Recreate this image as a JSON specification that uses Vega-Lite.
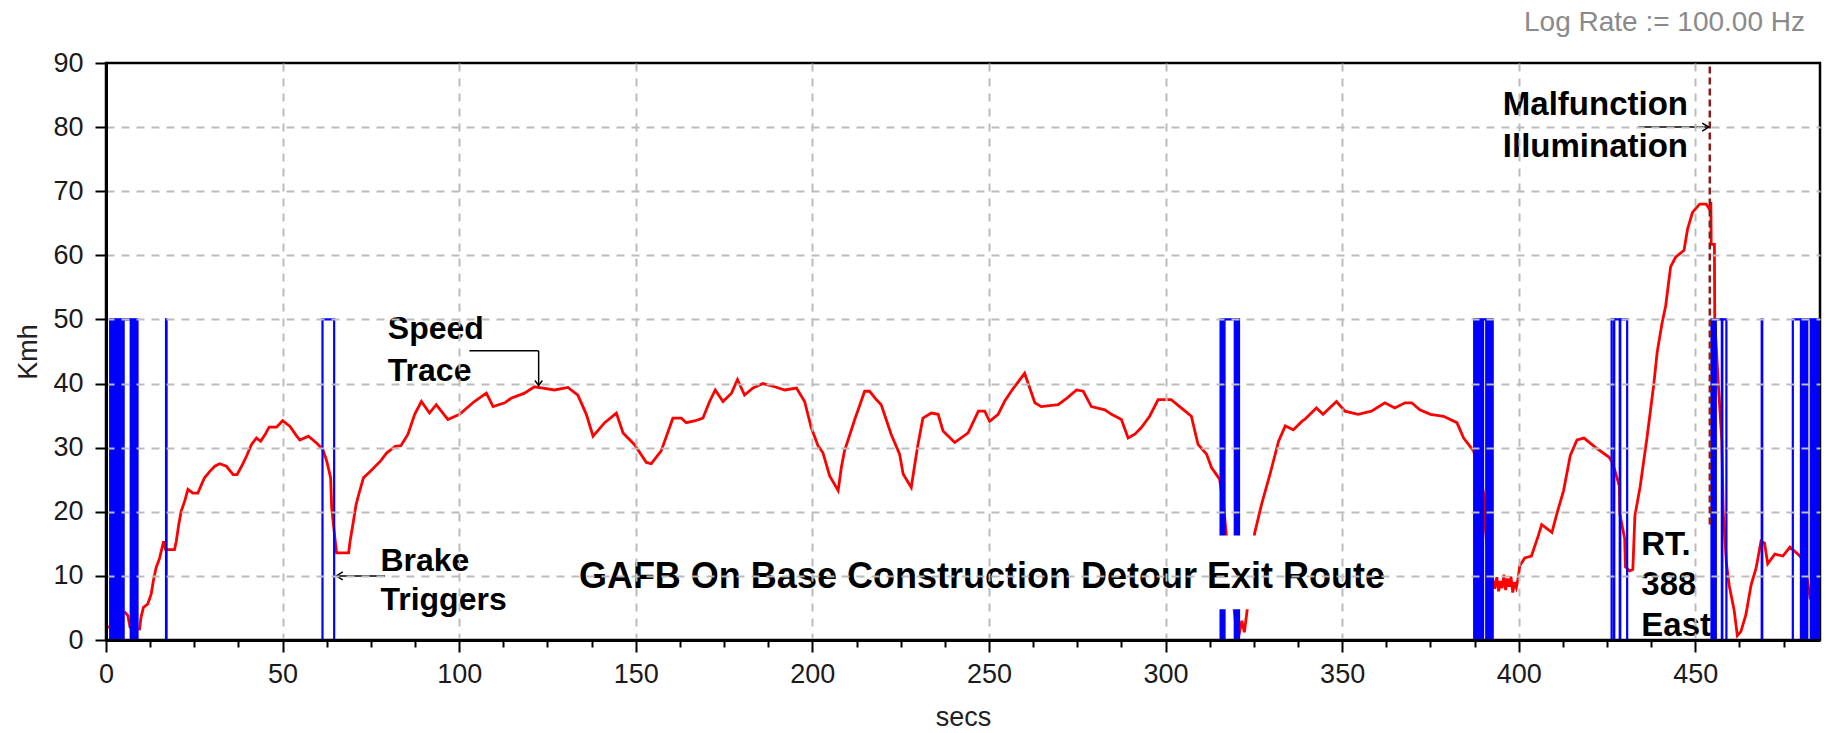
{
  "$schema": "https://vega.github.io/schema/vega-lite/v6.json",
  "width": 1714,
  "height": 577,
  "autosize": {"type": "none"},
  "padding": {"left": 106, "top": 63, "right": 6, "bottom": 93},
  "background": "white",
  "title": {
    "text": "Log Rate := 100.00 Hz",
    "anchor": "end",
    "frame": "group",
    "orient": "top",
    "font": "Liberation Sans",
    "fontSize": 28,
    "fontWeight": "normal",
    "color": "#8a8a8a",
    "baseline": "middle",
    "offset": -2,
    "dx": -15
  },
  "config": {
    "view": {"stroke": "#000000", "strokeWidth": 2.5},
    "font": "Liberation Sans"
  },
  "datasets": {
    "speed": [
      {"t": 0, "kmh": 2.0}, {"t": 1.0, "kmh": 2.0}, {"t": 2.5, "kmh": 3.0}, {"t": 4.2, "kmh": 4.3},
      {"t": 5.4, "kmh": 4.3}, {"t": 6.2, "kmh": 3.8}, {"t": 6.8, "kmh": 2.0}, {"t": 8.7, "kmh": 1.7},
      {"t": 9.5, "kmh": 1.7}, {"t": 9.9, "kmh": 3.5}, {"t": 10.6, "kmh": 5.1}, {"t": 11.8, "kmh": 5.6},
      {"t": 12.8, "kmh": 7.2}, {"t": 13.4, "kmh": 9.2}, {"t": 14.2, "kmh": 11.3}, {"t": 15.2, "kmh": 12.8},
      {"t": 16.3, "kmh": 15.4}, {"t": 16.9, "kmh": 14.1}, {"t": 19.4, "kmh": 14.1}, {"t": 19.9, "kmh": 15.4},
      {"t": 20.6, "kmh": 18.0}, {"t": 21.3, "kmh": 20.1}, {"t": 22.3, "kmh": 21.7}, {"t": 23.2, "kmh": 23.5},
      {"t": 24.6, "kmh": 22.9}, {"t": 26.0, "kmh": 22.9}, {"t": 27.0, "kmh": 24.2}, {"t": 27.9, "kmh": 25.3},
      {"t": 29.4, "kmh": 26.3}, {"t": 30.8, "kmh": 27.1}, {"t": 32.2, "kmh": 27.5}, {"t": 34.1, "kmh": 27.1},
      {"t": 36.0, "kmh": 25.8}, {"t": 37.1, "kmh": 25.8}, {"t": 38.4, "kmh": 27.1}, {"t": 39.8, "kmh": 28.7},
      {"t": 41.2, "kmh": 30.5}, {"t": 42.6, "kmh": 31.5}, {"t": 43.8, "kmh": 31.0}, {"t": 45.0, "kmh": 32.0},
      {"t": 46.2, "kmh": 33.2}, {"t": 48.3, "kmh": 33.2}, {"t": 50.0, "kmh": 34.2}, {"t": 52.1, "kmh": 33.3},
      {"t": 54.0, "kmh": 31.8}, {"t": 54.9, "kmh": 31.2}, {"t": 57.3, "kmh": 31.8}, {"t": 59.7, "kmh": 30.7},
      {"t": 61.4, "kmh": 29.7}, {"t": 62.5, "kmh": 27.9}, {"t": 63.6, "kmh": 25.3}, {"t": 63.9, "kmh": 20.6},
      {"t": 64.9, "kmh": 15.4}, {"t": 65.3, "kmh": 13.6}, {"t": 68.7, "kmh": 13.6}, {"t": 69.1, "kmh": 15.4},
      {"t": 69.9, "kmh": 18.0}, {"t": 70.8, "kmh": 21.1}, {"t": 71.8, "kmh": 23.2}, {"t": 72.9, "kmh": 25.3},
      {"t": 74.8, "kmh": 26.3}, {"t": 77.7, "kmh": 27.9}, {"t": 79.5, "kmh": 29.2}, {"t": 81.9, "kmh": 30.2},
      {"t": 83.5, "kmh": 30.3}, {"t": 85.5, "kmh": 32.1}, {"t": 87.4, "kmh": 35.2}, {"t": 89.3, "kmh": 37.2},
      {"t": 91.6, "kmh": 35.4}, {"t": 93.5, "kmh": 36.7}, {"t": 96.8, "kmh": 34.4}, {"t": 100.1, "kmh": 35.2},
      {"t": 104.3, "kmh": 37.2}, {"t": 107.7, "kmh": 38.5}, {"t": 109.6, "kmh": 36.4}, {"t": 112.9, "kmh": 37.0},
      {"t": 114.7, "kmh": 37.7}, {"t": 118.5, "kmh": 38.5}, {"t": 121.3, "kmh": 39.5}, {"t": 123.7, "kmh": 39.3},
      {"t": 127.0, "kmh": 39.0}, {"t": 130.8, "kmh": 39.4}, {"t": 133.6, "kmh": 38.2}, {"t": 136.0, "kmh": 35.2},
      {"t": 137.9, "kmh": 31.8}, {"t": 141.2, "kmh": 33.9}, {"t": 144.5, "kmh": 35.4}, {"t": 146.4, "kmh": 32.3},
      {"t": 149.6, "kmh": 30.5}, {"t": 153.0, "kmh": 27.7}, {"t": 154.4, "kmh": 27.5}, {"t": 157.2, "kmh": 29.5},
      {"t": 160.5, "kmh": 34.6}, {"t": 162.9, "kmh": 34.6}, {"t": 164.3, "kmh": 33.9}, {"t": 166.9, "kmh": 34.2},
      {"t": 169.0, "kmh": 34.6}, {"t": 170.9, "kmh": 37.2}, {"t": 172.5, "kmh": 39.0}, {"t": 174.7, "kmh": 37.2},
      {"t": 177.1, "kmh": 38.5}, {"t": 178.8, "kmh": 40.6}, {"t": 180.8, "kmh": 38.2}, {"t": 183.2, "kmh": 39.3},
      {"t": 186.0, "kmh": 40.0}, {"t": 189.3, "kmh": 39.5}, {"t": 192.2, "kmh": 39.0}, {"t": 195.5, "kmh": 39.3},
      {"t": 197.8, "kmh": 37.2}, {"t": 199.7, "kmh": 33.1}, {"t": 201.6, "kmh": 30.3}, {"t": 203.0, "kmh": 29.2},
      {"t": 204.9, "kmh": 25.6}, {"t": 207.3, "kmh": 23.3}, {"t": 208.2, "kmh": 26.9}, {"t": 209.1, "kmh": 29.5},
      {"t": 212.0, "kmh": 34.4}, {"t": 214.8, "kmh": 38.8}, {"t": 216.2, "kmh": 38.8}, {"t": 218.1, "kmh": 37.5},
      {"t": 219.5, "kmh": 36.7}, {"t": 222.3, "kmh": 32.1}, {"t": 224.7, "kmh": 29.0}, {"t": 225.7, "kmh": 25.9},
      {"t": 228.0, "kmh": 23.8}, {"t": 229.0, "kmh": 27.4}, {"t": 229.9, "kmh": 30.5}, {"t": 231.3, "kmh": 34.6},
      {"t": 233.7, "kmh": 35.4}, {"t": 235.6, "kmh": 35.2}, {"t": 237.0, "kmh": 32.6}, {"t": 240.3, "kmh": 30.8},
      {"t": 244.1, "kmh": 32.3}, {"t": 247.0, "kmh": 35.7}, {"t": 248.8, "kmh": 35.7}, {"t": 250.2, "kmh": 34.1},
      {"t": 252.6, "kmh": 35.2}, {"t": 254.4, "kmh": 37.2}, {"t": 256.3, "kmh": 38.8}, {"t": 260.1, "kmh": 41.6},
      {"t": 263.0, "kmh": 37.0}, {"t": 264.8, "kmh": 36.4}, {"t": 269.6, "kmh": 36.7}, {"t": 272.0, "kmh": 37.7},
      {"t": 274.8, "kmh": 39.0}, {"t": 276.7, "kmh": 38.8}, {"t": 279.0, "kmh": 36.4}, {"t": 282.8, "kmh": 35.9},
      {"t": 284.7, "kmh": 35.2}, {"t": 287.5, "kmh": 34.4}, {"t": 289.4, "kmh": 31.5}, {"t": 291.3, "kmh": 32.1},
      {"t": 293.1, "kmh": 33.1}, {"t": 295.5, "kmh": 34.9}, {"t": 297.9, "kmh": 37.5}, {"t": 301.6, "kmh": 37.5},
      {"t": 304.0, "kmh": 36.4}, {"t": 307.3, "kmh": 34.9}, {"t": 309.2, "kmh": 30.5}, {"t": 311.6, "kmh": 29.0},
      {"t": 313.0, "kmh": 26.9}, {"t": 315.3, "kmh": 25.1}, {"t": 316.5, "kmh": 20.5}, {"t": 317.1, "kmh": 17.0},
      {"t": 318.5, "kmh": 9.0}, {"t": 320.0, "kmh": 2.0}, {"t": 320.8, "kmh": 0.8}, {"t": 321.6, "kmh": 3.0},
      {"t": 322.3, "kmh": 1.2}, {"t": 323.3, "kmh": 5.5}, {"t": 324.3, "kmh": 11.0}, {"t": 325.2, "kmh": 16.6},
      {"t": 327.2, "kmh": 21.2}, {"t": 329.6, "kmh": 25.9}, {"t": 332.0, "kmh": 31.0}, {"t": 333.9, "kmh": 33.4},
      {"t": 336.2, "kmh": 32.8}, {"t": 338.6, "kmh": 34.1}, {"t": 339.4, "kmh": 34.4}, {"t": 342.7, "kmh": 36.2},
      {"t": 344.6, "kmh": 35.2}, {"t": 348.4, "kmh": 37.2}, {"t": 350.8, "kmh": 35.7}, {"t": 354.5, "kmh": 35.2},
      {"t": 358.3, "kmh": 35.7}, {"t": 362.1, "kmh": 37.0}, {"t": 364.9, "kmh": 36.2}, {"t": 367.8, "kmh": 37.0},
      {"t": 369.7, "kmh": 37.0}, {"t": 372.0, "kmh": 35.9}, {"t": 375.0, "kmh": 35.2}, {"t": 378.7, "kmh": 34.9},
      {"t": 382.5, "kmh": 33.9}, {"t": 384.4, "kmh": 31.5}, {"t": 387.2, "kmh": 29.5}, {"t": 389.0, "kmh": 26.0},
      {"t": 390.4, "kmh": 21.8}, {"t": 390.6, "kmh": 17.0}, {"t": 391.5, "kmh": 12.0}, {"t": 392.6, "kmh": 9.5},
      {"t": 393.2, "kmh": 8.0}, {"t": 393.8, "kmh": 9.8}, {"t": 394.3, "kmh": 7.6}, {"t": 394.8, "kmh": 9.2},
      {"t": 395.3, "kmh": 8.1}, {"t": 395.8, "kmh": 10.2}, {"t": 396.3, "kmh": 7.8}, {"t": 396.8, "kmh": 9.6},
      {"t": 397.3, "kmh": 8.3}, {"t": 397.8, "kmh": 9.9}, {"t": 398.3, "kmh": 7.4}, {"t": 398.8, "kmh": 9.0},
      {"t": 399.3, "kmh": 8.2}, {"t": 399.8, "kmh": 9.5}, {"t": 400.3, "kmh": 11.6}, {"t": 401.7, "kmh": 12.8},
      {"t": 403.6, "kmh": 13.1}, {"t": 405.5, "kmh": 16.2}, {"t": 406.5, "kmh": 18.0}, {"t": 409.4, "kmh": 16.8},
      {"t": 410.8, "kmh": 19.7}, {"t": 412.7, "kmh": 23.3}, {"t": 414.6, "kmh": 28.8}, {"t": 416.5, "kmh": 31.2},
      {"t": 418.5, "kmh": 31.5}, {"t": 421.8, "kmh": 30.0}, {"t": 425.6, "kmh": 28.5}, {"t": 426.6, "kmh": 27.6},
      {"t": 428.5, "kmh": 24.0}, {"t": 428.6, "kmh": 19.7}, {"t": 430.0, "kmh": 15.8}, {"t": 430.2, "kmh": 11.4},
      {"t": 431.4, "kmh": 10.8}, {"t": 432.3, "kmh": 11.0}, {"t": 432.9, "kmh": 19.4}, {"t": 434.4, "kmh": 24.0},
      {"t": 436.3, "kmh": 31.5}, {"t": 438.2, "kmh": 39.7}, {"t": 439.2, "kmh": 44.9}, {"t": 440.6, "kmh": 49.5},
      {"t": 441.6, "kmh": 52.1}, {"t": 443.0, "kmh": 58.2}, {"t": 444.4, "kmh": 59.7}, {"t": 446.8, "kmh": 60.8},
      {"t": 447.8, "kmh": 64.1}, {"t": 449.2, "kmh": 66.7}, {"t": 451.2, "kmh": 68.0}, {"t": 453.1, "kmh": 68.0},
      {"t": 454.0, "kmh": 67.2}, {"t": 454.4, "kmh": 68.3}, {"t": 454.5, "kmh": 61.7}, {"t": 455.4, "kmh": 61.7},
      {"t": 455.5, "kmh": 50.0}, {"t": 456.5, "kmh": 40.0}, {"t": 457.5, "kmh": 31.0}, {"t": 457.9, "kmh": 20.0},
      {"t": 458.8, "kmh": 12.0}, {"t": 459.6, "kmh": 8.5}, {"t": 461.0, "kmh": 4.6}, {"t": 461.9, "kmh": 0.7},
      {"t": 462.9, "kmh": 1.3}, {"t": 464.3, "kmh": 3.9}, {"t": 465.8, "kmh": 8.6}, {"t": 467.2, "kmh": 11.2},
      {"t": 468.6, "kmh": 15.4}, {"t": 469.6, "kmh": 15.1}, {"t": 470.5, "kmh": 11.9}, {"t": 472.5, "kmh": 13.4},
      {"t": 474.8, "kmh": 13.1}, {"t": 476.8, "kmh": 14.5}, {"t": 479.6, "kmh": 13.1}, {"t": 481.0, "kmh": 12.0},
      {"t": 482.5, "kmh": 6.5}, {"t": 485.0, "kmh": 6.3}
    ],
    "brakeOn": [
      {"on": 1.2, "off": 8.9, "level": 50},
      {"on": 17.0, "off": 17.15, "level": 50},
      {"on": 61.3, "off": 64.6, "level": 50},
      {"on": 315.6, "off": 320.8, "level": 50},
      {"on": 387.4, "off": 392.6, "level": 50},
      {"on": 426.3, "off": 430.7, "level": 50},
      {"on": 426.9, "off": 427.05, "level": 50},
      {"on": 428.6, "off": 428.75, "level": 50},
      {"on": 454.6, "off": 458.8, "level": 50},
      {"on": 457.5, "off": 457.65, "level": 50},
      {"on": 468.8, "off": 468.95, "level": 50},
      {"on": 477.6, "off": 485.3, "level": 50}
    ],
    "brakeBurst": [
      {"on": 1.2, "off": 5.1, "level": 50},
      {"on": 6.9, "off": 8.9, "level": 50},
      {"on": 315.6, "off": 316.8, "level": 50},
      {"on": 319.5, "off": 320.8, "level": 50},
      {"on": 387.4, "off": 390.0, "level": 50},
      {"on": 390.7, "off": 392.6, "level": 50},
      {"on": 454.6, "off": 455.9, "level": 50},
      {"on": 479.8, "off": 481.8, "level": 50},
      {"on": 482.6, "off": 485.3, "level": 50}
    ]
  },
  "layer": [
    {
      "data": {"name": "speed"},
      "mark": {"type": "line", "color": "#ff0000", "strokeWidth": 2.8, "clip": true},
      "encoding": {
        "x": {
          "field": "t",
          "type": "quantitative",
          "scale": {"domain": [0, 485.3], "nice": false, "zero": false},
          "axis": {
            "title": "secs",
            "values": [0, 12.5, 25, 37.5, 50, 62.5, 75, 87.5, 100, 112.5, 125, 137.5, 150, 162.5, 175, 187.5, 200, 212.5, 225, 237.5, 250, 262.5, 275, 287.5, 300, 312.5, 325, 337.5, 350, 362.5, 375, 387.5, 400, 412.5, 425, 437.5, 450, 462.5, 475],
            "labelExpr": "datum.value % 50 === 0 ? datum.label : ''",
            "labelOverlap": false,
            "labelBound": false,
            "labelFlush": false,
            "labelFont": "Liberation Sans",
            "labelFontSize": 27,
            "labelColor": "#1a1a1a",
            "labelPadding": 9,
            "tickSize": {"condition": {"test": "datum.value % 50 === 0", "value": 12}, "value": 7},
            "tickColor": "#000000",
            "tickWidth": 2,
            "domainColor": "#000000",
            "domainWidth": 3,
            "grid": true,
            "gridColor": "#bcbcbc",
            "gridWidth": 2,
            "gridDash": [8, 7],
            "gridOpacity": {"condition": {"test": "datum.value % 50 === 0 && datum.value > 0", "value": 1}, "value": 0},
            "titleFont": "Liberation Sans",
            "titleFontSize": 27,
            "titleFontWeight": "normal",
            "titleColor": "#222222",
            "titleBaseline": "middle",
            "titleY": 77,
            "zindex": 1
          }
        },
        "y": {
          "field": "kmh",
          "type": "quantitative",
          "scale": {"domain": [0, 90], "nice": false, "zero": false},
          "axis": {
            "title": "Kmh",
            "values": [0, 2.5, 5, 7.5, 10, 12.5, 15, 17.5, 20, 22.5, 25, 27.5, 30, 32.5, 35, 37.5, 40, 42.5, 45, 47.5, 50, 52.5, 55, 57.5, 60, 62.5, 65, 67.5, 70, 72.5, 75, 77.5, 80, 82.5, 85, 87.5, 90],
            "labelExpr": "datum.value % 10 === 0 ? datum.label : ''",
            "labelOverlap": false,
            "labelBound": false,
            "labelFlush": false,
            "labelFont": "Liberation Sans",
            "labelFontSize": 27,
            "labelColor": "#1a1a1a",
            "labelPadding": 12,
            "tickSize": {"condition": {"test": "datum.value % 10 === 0", "value": 11}, "value": 6},
            "tickColor": "#000000",
            "tickWidth": 2,
            "domainColor": "#000000",
            "domainWidth": 3,
            "grid": true,
            "gridColor": "#bcbcbc",
            "gridWidth": 2,
            "gridDash": [8, 7],
            "gridOpacity": {"condition": {"test": "datum.value % 10 === 0 && datum.value > 0 && datum.value < 90", "value": 1}, "value": 0},
            "titleFont": "Liberation Sans",
            "titleFontSize": 27,
            "titleFontWeight": "normal",
            "titleColor": "#222222",
            "titleAngle": 270,
            "titleBaseline": "middle",
            "titleAlign": "center",
            "titleX": -78,
            "titleY": 288.5,
            "zindex": 1
          }
        }
      }
    },
    {
      "data": {"name": "brakeOn"},
      "mark": {"type": "rect", "filled": false, "stroke": "#0000ff", "strokeWidth": 2.2, "clip": true},
      "encoding": {
        "x": {"field": "on", "type": "quantitative"},
        "x2": {"field": "off"},
        "y": {"field": "level", "type": "quantitative"},
        "y2": {"datum": 0}
      }
    },
    {
      "data": {"name": "brakeBurst"},
      "mark": {"type": "rect", "color": "#0000ff", "stroke": "#0000ff", "strokeWidth": 1.5, "clip": true},
      "encoding": {
        "x": {"field": "on", "type": "quantitative"},
        "x2": {"field": "off"},
        "y": {"field": "level", "type": "quantitative"},
        "y2": {"datum": 0}
      }
    },
    {
      "data": {"values": [{}]},
      "mark": {"type": "rule", "color": "#8b1a1a", "strokeWidth": 2.5, "strokeDash": [7, 4]},
      "encoding": {"x": {"datum": 454.1}, "y": {"datum": 18}, "y2": {"datum": 90}}
    },
    {
      "data": {"values": [{}]},
      "mark": {"type": "rect", "color": "#ffffff", "opacity": 1},
      "encoding": {"x": {"datum": 76}, "x2": {"datum": 106.5}, "y": {"datum": 39.5}, "y2": {"datum": 51.2}}
    },
    {
      "data": {"values": [{}]},
      "mark": {"type": "rect", "color": "#ffffff", "opacity": 1},
      "encoding": {"x": {"datum": 76.5}, "x2": {"datum": 115}, "y": {"datum": 2}, "y2": {"datum": 15}}
    },
    {
      "data": {"values": [{}]},
      "mark": {"type": "rect", "color": "#ffffff", "opacity": 1},
      "encoding": {"x": {"datum": 125}, "x2": {"datum": 386}, "y": {"datum": 4.8}, "y2": {"datum": 16.3}}
    },
    {
      "data": {"values": [{}]},
      "mark": {"type": "rect", "color": "#ffffff", "opacity": 1},
      "encoding": {"x": {"datum": 394.5}, "x2": {"datum": 448}, "y": {"datum": 73.5}, "y2": {"datum": 87.5}}
    },
    {
      "data": {"values": [{}]},
      "mark": {"type": "rect", "color": "#ffffff", "opacity": 1},
      "encoding": {"x": {"datum": 434.2}, "x2": {"datum": 453.6}, "y": {"datum": 0.4}, "y2": {"datum": 18.3}}
    },
    {
      "data": {"values": [{}]},
      "mark": {"type": "text", "text": ["Speed", "Trace"], "lineHeight": 41.7, "align": "left", "baseline": "alphabetic", "font": "Liberation Sans", "fontWeight": "bold", "fontSize": 32, "color": "#000000"},
      "encoding": {"x": {"datum": 79.8}, "y": {"datum": 46.9}}
    },
    {
      "data": {"values": [{}]},
      "mark": {"type": "text", "text": ["Brake", "Triggers"], "lineHeight": 39.7, "align": "left", "baseline": "alphabetic", "font": "Liberation Sans", "fontWeight": "bold", "fontSize": 32, "color": "#000000"},
      "encoding": {"x": {"datum": 77.7}, "y": {"datum": 10.8}}
    },
    {
      "data": {"values": [{}]},
      "mark": {"type": "text", "text": "GAFB On Base Construction Detour Exit Route", "align": "center", "baseline": "alphabetic", "font": "Liberation Sans", "fontWeight": "bold", "fontSize": 36, "color": "#000000"},
      "encoding": {"x": {"datum": 248}, "y": {"datum": 8.1}}
    },
    {
      "data": {"values": [{}]},
      "mark": {"type": "text", "text": ["Malfunction", "Illumination"], "lineHeight": 42.4, "align": "left", "baseline": "alphabetic", "font": "Liberation Sans", "fontWeight": "bold", "fontSize": 33, "color": "#000000"},
      "encoding": {"x": {"datum": 395.5}, "y": {"datum": 81.9}}
    },
    {
      "data": {"values": [{}]},
      "mark": {"type": "text", "text": ["RT.", "388", "East"], "lineHeight": 40.7, "align": "left", "baseline": "alphabetic", "font": "Liberation Sans", "fontWeight": "bold", "fontSize": 33, "color": "#000000"},
      "encoding": {"x": {"datum": 434.7}, "y": {"datum": 13.3}}
    },
    {
      "data": {"values": [{}]},
      "mark": {"type": "rule", "color": "#000000", "strokeWidth": 1.5},
      "encoding": {"x": {"datum": 102.9}, "x2": {"datum": 122.5}, "y": {"datum": 45.1}}
    },
    {
      "data": {"values": [{}]},
      "mark": {"type": "rule", "color": "#000000", "strokeWidth": 1.5},
      "encoding": {"x": {"datum": 122.5}, "y": {"datum": 45.1}, "y2": {"datum": 39.7}}
    },
    {
      "data": {"values": [{}]},
      "mark": {"type": "point", "shape": "M-0.75,-1L0,0L0.75,-1", "size": 100, "filled": false, "stroke": "#000000", "strokeWidth": 1.5, "opacity": 1},
      "encoding": {"x": {"datum": 122.5}, "y": {"datum": 39.7}}
    },
    {
      "data": {"values": [{}]},
      "mark": {"type": "rule", "color": "#000000", "strokeWidth": 1.5},
      "encoding": {"x": {"datum": 65.2}, "x2": {"datum": 79.0}, "y": {"datum": 10}}
    },
    {
      "data": {"values": [{}]},
      "mark": {"type": "point", "shape": "M1.3,-0.8L0,0L1.3,0.8", "size": 100, "filled": false, "stroke": "#000000", "strokeWidth": 1.5, "opacity": 1},
      "encoding": {"x": {"datum": 65.2}, "y": {"datum": 10}}
    },
    {
      "data": {"values": [{}]},
      "mark": {"type": "rule", "color": "#000000", "strokeWidth": 1.5},
      "encoding": {"x": {"datum": 433.9}, "x2": {"datum": 453.8}, "y": {"datum": 80}}
    },
    {
      "data": {"values": [{}]},
      "mark": {"type": "point", "shape": "M-1.3,-0.8L0,0L-1.3,0.8", "size": 100, "filled": false, "stroke": "#000000", "strokeWidth": 1.5, "opacity": 1},
      "encoding": {"x": {"datum": 453.8}, "y": {"datum": 80}}
    }
  ]
}
